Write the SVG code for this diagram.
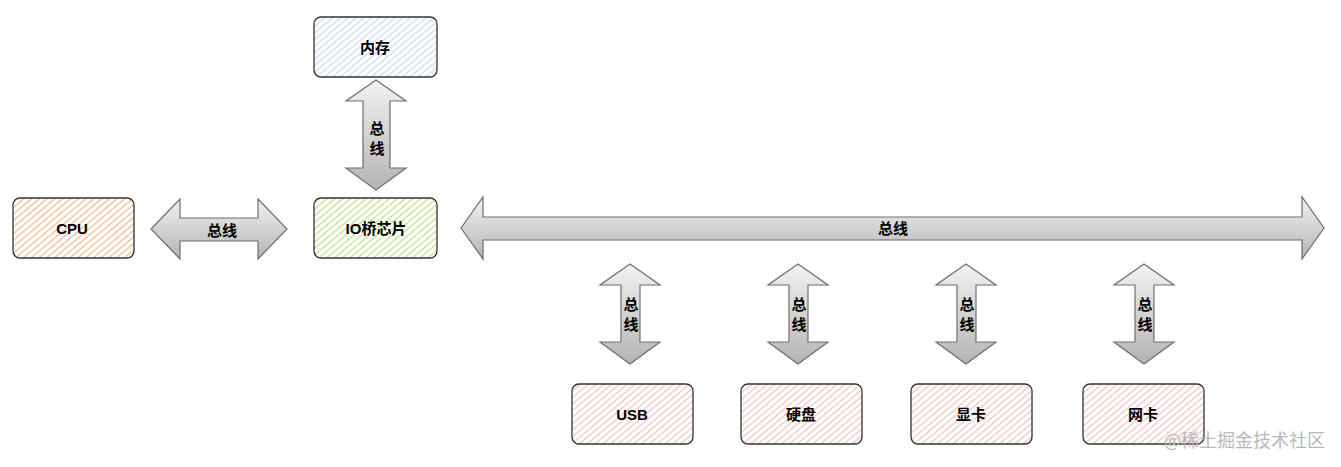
<svg xmlns="http://www.w3.org/2000/svg" width="1341" height="467" viewBox="0 0 1341 467">
<style>
.box{stroke:#333;stroke-width:1.3;}
.lbl{font-family:"Liberation Sans","Noto Sans CJK SC",sans-serif;font-size:15px;font-weight:bold;fill:#000;text-anchor:middle;dominant-baseline:central;}
.arr{fill:url(#g);stroke:#6e6e6e;stroke-width:1.2;stroke-linejoin:miter;}
.wm{font-family:"Noto Sans CJK SC",sans-serif;font-size:18px;fill:#b8b8b8;}
</style>
<defs>
<linearGradient id="g" x1="0" y1="0" x2="0" y2="1"><stop offset="0" stop-color="#f2f2f2"/><stop offset="1" stop-color="#b4b4b4"/></linearGradient>
<pattern id="hb" width="5" height="5" patternUnits="userSpaceOnUse" patternTransform="rotate(-40)"><rect width="5" height="5" fill="#fff"/><line x1="0" y1="2.5" x2="5" y2="2.5" stroke="#c9dcf3" stroke-width="1.3"/></pattern>
<pattern id="ho" width="5" height="5" patternUnits="userSpaceOnUse" patternTransform="rotate(-40)"><rect width="5" height="5" fill="#fff"/><line x1="0" y1="2.5" x2="5" y2="2.5" stroke="#f3b98c" stroke-width="1.3"/></pattern>
<pattern id="hg" width="5" height="5" patternUnits="userSpaceOnUse" patternTransform="rotate(-40)"><rect width="5" height="5" fill="#fff"/><line x1="0" y1="2.5" x2="5" y2="2.5" stroke="#bfe08a" stroke-width="1.3"/></pattern>
<pattern id="hp" width="5" height="5" patternUnits="userSpaceOnUse" patternTransform="rotate(-40)"><rect width="5" height="5" fill="#fff"/><line x1="0" y1="2.5" x2="5" y2="2.5" stroke="#f3c3c3" stroke-width="1.3"/></pattern>
</defs>

<g id="connectors">
  <g id="bus-mem-io">
    <polygon class="arr" points="376,80 406,101 390,101 390,168 406,168 376,190 346,168 363,168 363,101 346,101"/>
    <text class="lbl" x="377" y="128">总</text><text class="lbl" x="377" y="148">线</text>
  </g>
  <g id="bus-cpu-io">
    <polygon class="arr" points="151,229 180,199 180,218 258,218 258,199 287,229 258,259 258,241 180,241 180,259"/>
    <text class="lbl" x="222" y="230">总线</text>
  </g>
  <g id="bus-main">
    <polygon class="arr" points="461,228 483,197 483,217 1302,217 1302,197 1324,228 1302,259 1302,240 483,240 483,259"/>
    <text class="lbl" x="893" y="228">总线</text>
  </g>
  <g id="bus-usb">
    <polygon class="arr" points="630,264 660,285 640,285 640,342 660,342 630,364 600,342 621,342 621,285 600,285"/>
    <text class="lbl" x="631" y="304">总</text><text class="lbl" x="631" y="324">线</text>
  </g>
  <g id="bus-disk">
    <polygon class="arr" points="798,264 828,285 808,285 808,342 828,342 798,364 768,342 789,342 789,285 768,285"/>
    <text class="lbl" x="799" y="304">总</text><text class="lbl" x="799" y="324">线</text>
  </g>
  <g id="bus-gpu">
    <polygon class="arr" points="966,264 996,285 976,285 976,342 996,342 966,364 936,342 957,342 957,285 936,285"/>
    <text class="lbl" x="967" y="304">总</text><text class="lbl" x="967" y="324">线</text>
  </g>
  <g id="bus-nic">
    <polygon class="arr" points="1144,264 1174,285 1154,285 1154,342 1174,342 1144,364 1114,342 1135,342 1135,285 1114,285"/>
    <text class="lbl" x="1145" y="304">总</text><text class="lbl" x="1145" y="324">线</text>
  </g>
</g>

<g id="mem"><rect class="box" x="314" y="17" width="123" height="60" rx="7" fill="url(#hb)"/><text class="lbl" x="375" y="47">内存</text></g>
<g id="cpu"><rect class="box" x="13" y="198" width="121" height="60" rx="7" fill="url(#ho)"/><text class="lbl" x="72" y="228">CPU</text></g>
<g id="io"><rect class="box" x="314" y="198" width="123" height="60" rx="7" fill="url(#hg)"/><text class="lbl" x="376" y="228">IO桥芯片</text></g>
<g id="usb"><rect class="box" x="572" y="384" width="121" height="60" rx="7" fill="url(#hp)"/><text class="lbl" x="632" y="414">USB</text></g>
<g id="disk"><rect class="box" x="741" y="384" width="121" height="60" rx="7" fill="url(#hp)"/><text class="lbl" x="801" y="414">硬盘</text></g>
<g id="gpu"><rect class="box" x="911" y="384" width="121" height="60" rx="7" fill="url(#hp)"/><text class="lbl" x="971" y="414">显卡</text></g>
<g id="nic"><rect class="box" x="1083" y="384" width="121" height="60" rx="7" fill="url(#hp)"/><text class="lbl" x="1143" y="414">网卡</text></g>

<text class="wm" x="1164" y="447">@稀土掘金技术社区</text>
</svg>
